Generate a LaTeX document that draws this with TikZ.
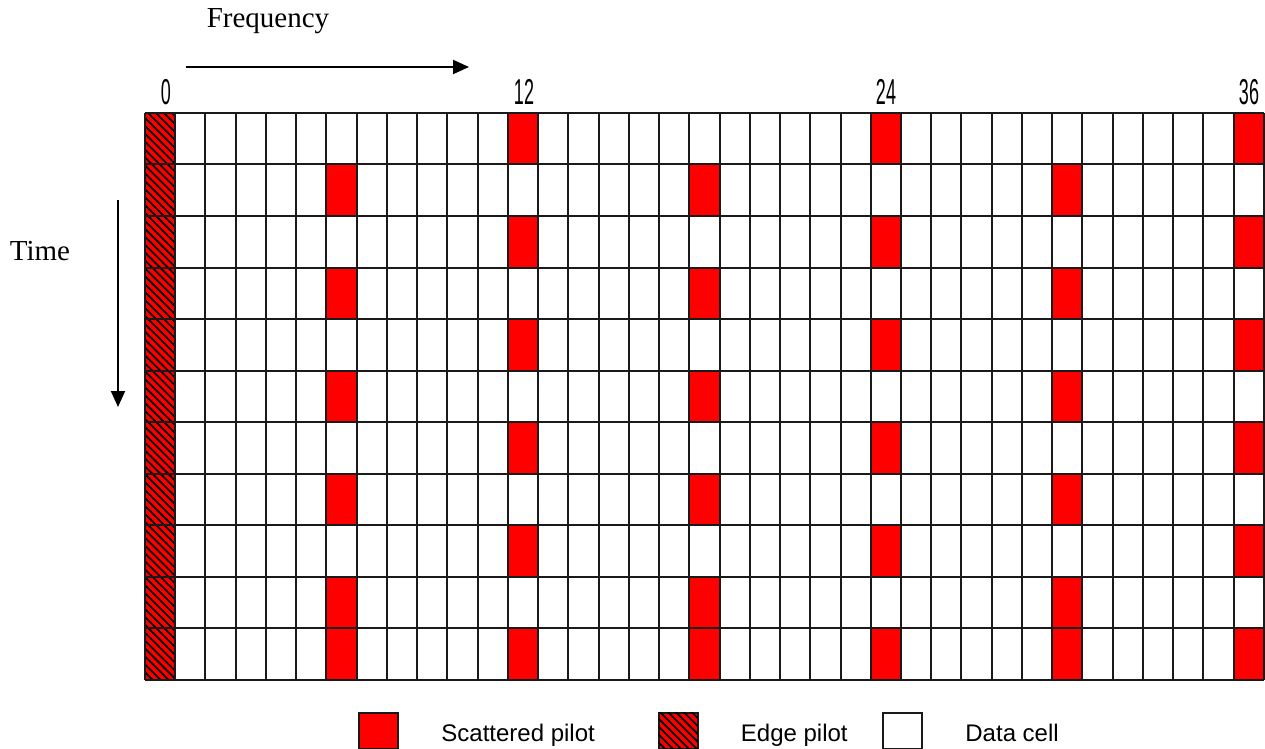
\documentclass[tikz,border=0pt]{standalone}
\usepackage{fontspec}
\setmainfont{Liberation Serif}
\newfontfamily\legendfont{Liberation Sans}
\newfontfamily\tickfont[FakeStretch=0.5]{Liberation Sans}
\usepackage{tikz}
\usetikzlibrary{arrows.meta,positioning,patterns.meta}
\definecolor{pilotred}{HTML}{FF0000}
\definecolor{gridink}{HTML}{1A1A1A}

\begin{document}
\begin{tikzpicture}[
    x=0.5pt,y=-0.5pt,
    gridline/.style={draw=gridink,line width=1pt},
    pilotcell/.style={fill=pilotred},
    edgecell/.style={fill=pilotred,postaction={pattern={Lines[angle=-45,distance=2.8pt,line width=0.9pt]},pattern color=black}},
    ticklabel/.style={font=\tickfont\fontsize{18}{18}\selectfont,anchor=base,inner sep=0pt},
    axislabel/.style={font=\fontsize{14.5}{17}\selectfont,anchor=base,inner sep=0pt},
    axisarrow/.style={-{Triangle[length=8pt,width=7pt]},line width=1pt,draw=black},
    legbox/.style={draw=gridink,line width=1pt,minimum width=19.5pt,minimum height=18pt,inner sep=0pt},
    legtext/.style={font=\legendfont\fontsize{12}{14}\selectfont,inner sep=0pt,text height=8.75pt,text depth=2.5pt}
]
    \path[use as bounding box,fill=white] (0,0) rectangle (1265,749);

    % pilot grid, 37 carriers x 11 symbols
    \begin{scope}[shift={(145,113)},x=15.12pt,y=-25.75pt]
        \foreach \r in {0,...,10}
            \path[edgecell] (0,\r) rectangle ++(1,1);
        \foreach \r in {0,2,...,10}
            \foreach \c in {12,24,36}
                \path[pilotcell] (\c,\r) rectangle ++(1,1);
        \foreach \r in {1,3,...,9}
            \foreach \c in {6,18,30}
                \path[pilotcell] (\c,\r) rectangle ++(1,1);
        \foreach \c in {6,18,30}
            \path[pilotcell] (\c,10) rectangle ++(1,1);
        \foreach \c in {0,...,37}
            \draw[gridline] (\c,0) -- (\c,11);
        \foreach \r in {0,...,11}
            \draw[gridline] (0,\r) -- (37,\r);
    \end{scope}

    % carrier indices
    \node[ticklabel] (tick0) at (166,105) {0};
    \node[ticklabel] (tick12) at (524,105) {12};
    \node[ticklabel] (tick24) at (886,105) {24};
    \node[ticklabel] (tick36) at (1249,105) {36};

    % axes
    \node[axislabel] (freq) at (268,28) {Frequency};
    \coordinate (freqstart) at (186,67);
    \coordinate (freqend) at (469,67);
    \draw[axisarrow] (freqstart) -- (freqend);

    \node[axislabel] (time) at (40,261) {Time};
    \coordinate (timestart) at (118,200);
    \coordinate (timeend) at (118,407);
    \draw[axisarrow] (timestart) -- (timeend);

    % legend
    \node[legbox,fill=pilotred] (spkey) at (378.5,730.5) {};
    \node[legtext,right=21pt of spkey,yshift=-2.6pt] (sptext) {Scattered pilot};
    \node[legbox,edgecell] (epkey) at (678,730.5) {};
    \node[legtext,right=21pt of epkey,yshift=-2.6pt] (eptext) {Edge pilot};
    \node[legbox,fill=white] (dckey) at (902.5,730.5) {};
    \node[legtext,right=21pt of dckey,yshift=-2.6pt] (dctext) {Data cell};
\end{tikzpicture}
\end{document}
